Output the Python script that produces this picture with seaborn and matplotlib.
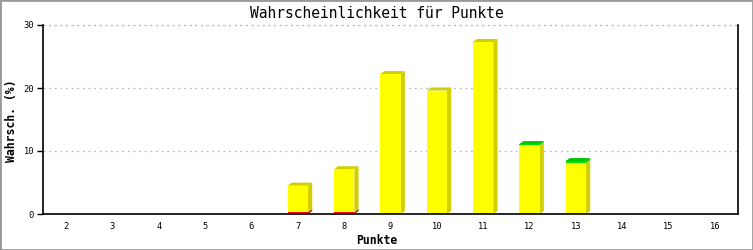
import numpy as np
import pandas as pd
import matplotlib
matplotlib.use("Agg")
import matplotlib.pyplot as plt
from matplotlib.patches import Polygon, Rectangle
import seaborn as sns

# ---- data ----
punkte = [2, 3, 4, 5, 6, 7, 8, 9, 10, 11, 12, 13, 14, 15, 16]
rot = [0, 0, 0, 0, 0, 0.3, 0.3, 0, 0, 0, 0, 0, 0, 0, 0]
gelb = [0, 0, 0, 0, 0, 4.2, 6.8, 22.2, 19.6, 27.3, 10.9, 8.1, 0, 0, 0]
gruen = [0, 0, 0, 0, 0, 0, 0, 0, 0, 0, 0.2, 0.3, 0, 0, 0]
y_ticks = [0, 10, 20, 30]

title = "Wahrscheinlichkeit für Punkte"
xlabel = "Punkte"
ylabel = "Wahrsch. (%)"

colors_front = {"rot": "#ff0000", "gelb": "#ffff00", "gruen": "#00dd00"}
colors_side = {"rot": "#c80000", "gelb": "#d2cf00", "gruen": "#00c800"}

sns.set_style("white")
plt.rcParams["font.family"] = ["DejaVu Sans Mono", "DejaVu Sans"]

fig = plt.figure(figsize=(7.53, 2.5), dpi=100)
ax = fig.add_axes([43 / 753, 36 / 250, (738 - 43) / 753, (214 - 25) / 250])

cats = [str(p) for p in punkte]
r = np.array(rot)
g = np.array(gelb)
gr = np.array(gruen)
df = pd.DataFrame({"Punkte": cats, "rot": r, "ry": r + g, "ryg": r + g + gr})

W = 0.44
sns.barplot(data=df, x="Punkte", y="ryg", order=cats, color=colors_front["gruen"],
            width=W, saturation=1, linewidth=0, ax=ax, zorder=2)
sns.barplot(data=df, x="Punkte", y="ry", order=cats, color=colors_front["gelb"],
            width=W, saturation=1, linewidth=0, ax=ax, zorder=2.1)
sns.barplot(data=df, x="Punkte", y="rot", order=cats, color=colors_front["rot"],
            width=W, saturation=1, linewidth=0, ax=ax, zorder=2.2)

# 3D side and top faces derived from the bar geometry
base_patches = ax.patches[:len(cats)]
dx = 0.09
dy = 0.48
for i, p in enumerate(base_patches):
    xl = p.get_x()
    xr = xl + p.get_width()
    segs = [("rot", 0, r[i]), ("gelb", r[i], r[i] + g[i]), ("gruen", r[i] + g[i], r[i] + g[i] + gr[i])]
    top_seg = None
    for name, b, t in segs:
        if t - b <= 0:
            continue
        side = Polygon([(xr, b), (xr + dx, b + dy), (xr + dx, t + dy), (xr, t)],
                       closed=True, facecolor=colors_side[name], edgecolor="none", zorder=1.9)
        ax.add_patch(side)
        top_seg = (name, t)
    if top_seg is not None:
        name, t = top_seg
        top = Polygon([(xl, t), (xl + dx, t + dy), (xr + dx, t + dy), (xr, t)],
                      closed=True, facecolor=colors_side[name], edgecolor="none", zorder=1.9)
        ax.add_patch(top)

ax.set_xlim(-0.5, len(cats) - 0.5)
ax.set_ylim(0, 30)
ax.set_yticks(y_ticks)
ax.set_yticklabels([str(t) for t in y_ticks])
ax.yaxis.grid(True, linestyle=(0, (1.5, 3)), color="#bbbbbb", linewidth=0.9)
ax.xaxis.grid(False)
ax.set_axisbelow(True)

for side in ["left", "bottom", "right"]:
    ax.spines[side].set_visible(True)
    ax.spines[side].set_color("black")
    ax.spines[side].set_linewidth(1.2)
ax.spines["top"].set_visible(False)

ax.tick_params(axis="x", length=0, pad=6, labelsize=6.3, colors="black")
ax.tick_params(axis="y", length=4.5, width=1, direction="out", pad=2, labelsize=6.3,
               colors="black", left=True)
ax.set_xlabel("")
ax.set_ylabel("")

# gridline at top
ax.axhline(30, linestyle=(0, (1.5, 3)), color="#bbbbbb", linewidth=0.9, clip_on=False, zorder=0.5)

fig.text(0.5, 1 - 13 / 250, title, ha="center", va="center", fontsize=10.5,
         fontweight="normal", color="black")
fig.text(0.5, 1 - 240 / 250, xlabel, ha="center", va="center", fontsize=8.3,
         fontweight="bold", color="black")
fig.text(12 / 753, 1 - 121 / 250, ylabel, ha="center", va="center", rotation=90,
         fontsize=8.3, fontweight="bold", color="black")

fig.patches.append(Rectangle((0, 0), 1, 1, transform=fig.transFigure, fill=False,
                             edgecolor="#999999", linewidth=2.0))

fig.savefig("out.png", dpi=100, facecolor="white")
